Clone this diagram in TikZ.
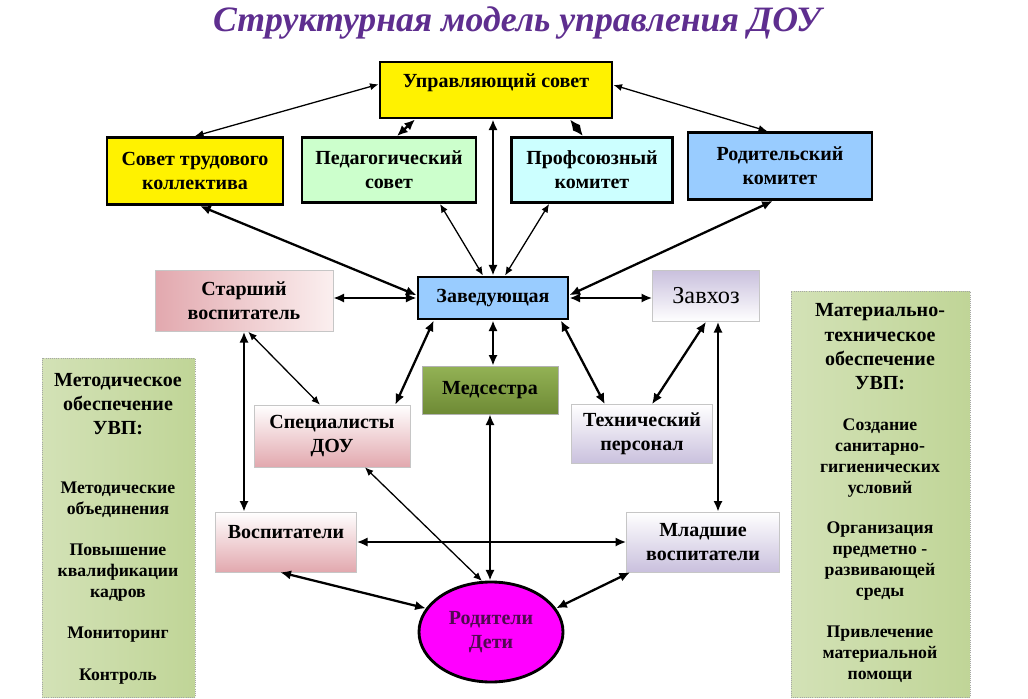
\documentclass[tikz,border=0pt]{standalone}
\usepackage{fontspec}
\setmainfont{Liberation Serif}
\usetikzlibrary{arrows.meta,shapes.geometric}
\definecolor{titlec}{HTML}{5E2E8F}
\definecolor{pedc}{HTML}{CCFFCC}
\definecolor{profc}{HTML}{CCFFFF}
\definecolor{rodc}{HTML}{99CCFF}
\definecolor{pinkD}{HTML}{E2A8AE}
\definecolor{pinkL}{HTML}{FBEFEF}
\definecolor{lavD}{HTML}{C9C0DD}
\definecolor{oliveD}{HTML}{6E8A35}
\definecolor{oliveL}{HTML}{93B255}
\definecolor{greenD}{HTML}{C0D597}
\definecolor{greenL}{HTML}{F1F5E8}
\definecolor{magentac}{HTML}{FF00FF}
\definecolor{rtext}{HTML}{500A50}

\begin{document}
\begin{tikzpicture}[x=0.7pt, y=-0.7pt, % one unit = one pixel of the sketch
    font=\bfseries\fontsize{14}{17}\selectfont,
    box/.style={draw, line width=2pt, align=center, inner sep=1mm},
    softbox/.style={draw=gray!45, line width=0.4pt, align=center, inner sep=1mm},
    panel/.style={draw=gray!70, densely dotted, line width=0.5pt, left color=greenD!70,
      middle color=greenL, right color=greenD},
    phead/.style={align=center, font=\bfseries\fontsize{14}{17}\selectfont},
    pitem/.style={align=center, font=\bfseries\fontsize{12.4}{14.7}\selectfont},
    link/.style={{Latex[length=7.5pt,width=6.5pt]}-{Latex[length=7.5pt,width=6.5pt]}, line width=1.6pt},
    thinlink/.style={{Latex[length=6pt,width=5pt]}-{Latex[length=6pt,width=5pt]}, line width=0.9pt}
   ]
    \useasboundingbox (0,0) rectangle (1028,699);

    \node[text=titlec] (title) at (517,23)
      {\itshape\fontsize{25}{28}\selectfont Структурная модель управления ДОУ};

    % top level
    \node[box, fill=yellow, minimum width=162.4pt, minimum height=39.2pt,
      text height=10pt, text depth=14pt] (uprs) at (496,90) {Управляющий совет};
    \node[box, fill=yellow, minimum width=123.2pt, minimum height=46.9pt] (sovtr) at (195,171)
      {Совет трудового\\коллектива};
    \node[box, fill=pedc, minimum width=121.8pt, minimum height=45.5pt] (pedsov) at (389,170)
      {Педагогический\\совет};
    \node[box, fill=profc, minimum width=112.7pt, minimum height=45.5pt] (prof) at (592,170)
      {Профсоюзный\\комитет};
    \node[box, fill=rodc, minimum width=128.8pt, minimum height=46.9pt] (rodkom) at (780,166)
      {Родительский\\комитет};

    % middle level
    \node[box, fill=rodc, minimum width=105pt, minimum height=29.4pt] (zav) at (493,298)
      {Заведующая};
    \node[softbox, left color=pinkD, right color=pinkL, minimum width=124.6pt, minimum height=42.7pt]
      (starsh) at (244,301) {Старший\\воспитатель};
    \node[softbox, top color=lavD, bottom color=white, minimum width=74.9pt, minimum height=35.7pt]
      (zavhoz) at (706,296) {\mdseries\fontsize{17}{20}\selectfont Завхоз};
    \node[softbox, draw=gray!60, top color=oliveL, bottom color=oliveD, minimum width=95.2pt,
      minimum height=33.6pt] (med) at (490,390) {Медсестра};
    \node[softbox, top color=white, bottom color=pinkD, minimum width=109.2pt, minimum height=43.4pt]
      (spec) at (332,436) {Специалисты\\ДОУ};
    \node[softbox, top color=white, bottom color=lavD, minimum width=98.7pt, minimum height=41.3pt]
      (tech) at (642,434) {Технический\\персонал};
    \node[softbox, top color=white, bottom color=pinkD, minimum width=98.7pt, minimum height=42pt,
      text height=10pt, text depth=15pt] (vosp) at (286,542) {Воспитатели};
    \node[softbox, top color=white, bottom color=lavD, minimum width=107.1pt, minimum height=42pt]
      (mlad) at (703,542) {Младшие\\воспитатели};
    \node[ellipse, draw, line width=2pt, fill=magentac, text=rtext, align=center,
      minimum width=100.8pt, minimum height=70pt] (rodit) at (491,632) {Родители\\Дети};

    % side panels
    \node[panel, minimum width=107.1pt, minimum height=237.3pt] (metp) at (118.5,527.5) {};
    \node[phead] (methead) at (118,404) {Методическое\\обеспечение\\УВП:};
    \node[pitem] (metA) at (118,500) {Методические\\объединения};
    \node[pitem] (metB) at (118,573) {Повышение\\квалификации\\кадров};
    \node[pitem] (metC) at (118,635) {Мониторинг};
    \node[pitem] (metD) at (118,677) {Контроль};

    \node[panel, minimum width=125.3pt, minimum height=284.2pt] (mtp) at (880.5,494) {};
    \node[phead] (mthead) at (880,347) {Материально-\\техническое\\обеспечение\\УВП:};
    \node[pitem] (mtA) at (880,458) {Создание\\санитарно-\\гигиенических\\условий};
    \node[pitem] (mtB) at (880,561) {Организация\\предметно -\\развивающей\\среды};
    \node[pitem] (mtC) at (880,654) {Привлечение\\материальной\\помощи};

    \coordinate (zhx) at ([xshift=8.4pt]zavhoz.south);

    % connectors
    \draw[thinlink] ([yshift=4pt]uprs.west) -- (sovtr.north);
    \draw[link] ([xshift=-56.7pt]uprs.south) -- ([xshift=5.6pt]pedsov.north);
    \draw[link] ([xshift=51.8pt]uprs.south) -- ([xshift=-6.3pt]prof.north);
    \draw[thinlink] ([yshift=3.5pt]uprs.east) -- ([xshift=-9pt]rodkom.north);
    \draw[link] (zav.north) -- (zav.north |- uprs.south);
    \draw[thinlink] ([xshift=35.7pt]pedsov.south) -- ([xshift=-7pt]zav.north);
    \draw[thinlink] ([xshift=-30pt]prof.south) -- ([xshift=8.4pt]zav.north);
    \draw[link] ([xshift=3.5pt]sovtr.south) -- ([yshift=2pt]zav.west);
    \draw[link] ([xshift=-5pt]rodkom.south) -- ([yshift=2pt]zav.east);
    \draw[link] (starsh.east |- zav.west) -- (zav.west);
    \draw[link] (zav.east) -- (zav.east -| zavhoz.west);
    \draw[link] (zav.south) -- (zav.south |- med.north);
    \draw[link] ([xshift=12pt]zav.south west) -- ([xshift=-10.5pt]spec.north east);
    \draw[link] ([xshift=-6pt]zav.south east) -- ([xshift=-26pt]tech.north);
    \draw[thinlink] ([xshift=3pt]starsh.south) -- ([xshift=-8.4pt]spec.north);
    \draw[link] (starsh.south) -- (starsh.south |- vosp.north);
    \draw[link] (zavhoz.south) -- ([xshift=7pt]tech.north);
    \draw[link] (zhx) -- (zhx |- mlad.north);
    \draw[link] (med.south) -- (med.south |- rodit.north);
    \draw[thinlink] ([xshift=23pt]spec.south) -- (rodit.100);
    \draw[link] (vosp.east) -- (vosp.east -| mlad.west);
    \draw[link] ([xshift=-4pt]vosp.south) -- (rodit.160);
    \draw[link] ([xshift=-51pt]mlad.south) -- (rodit.20);
\end{tikzpicture}
\end{document}
